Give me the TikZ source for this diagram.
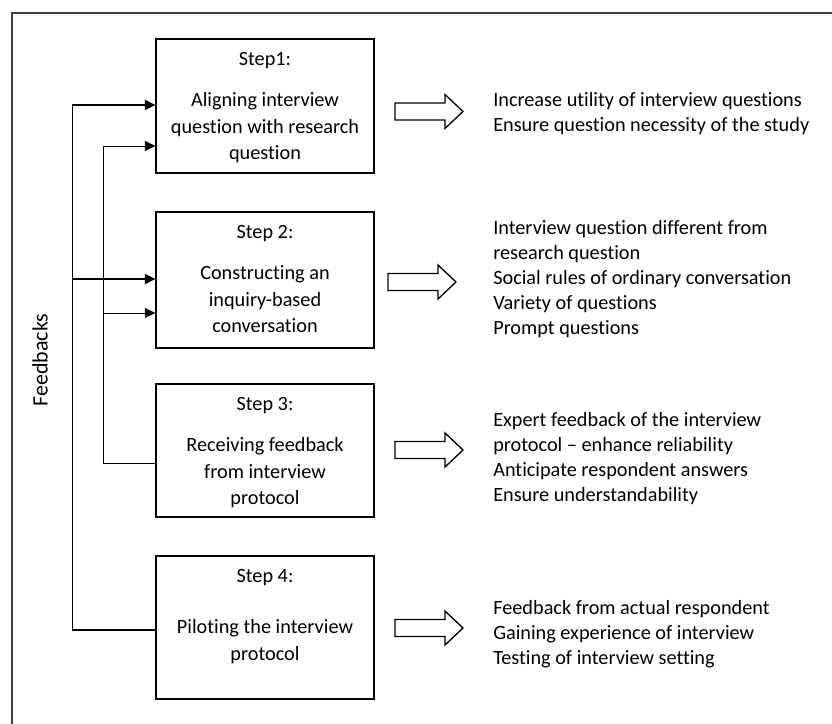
\documentclass[tikz,border=0pt]{standalone}
\usepackage{fontspec}
\setmainfont{Carlito}[RawFeature={-liga;-clig;-calt;-dlig}]
\usetikzlibrary{arrows.meta}
\usetikzlibrary{positioning}
\usetikzlibrary{calc}

\begin{document}
\begin{tikzpicture}[x=0.75pt,y=-0.75pt,
  stepbox/.style={draw, line width=0.8pt, minimum width=163.5pt, inner sep=0pt},
  steptext/.style={align=center, inner sep=0pt, font=\fontsize{15.2}{20}\selectfont},
  outtext/.style={anchor=west, align=left, inner sep=0pt, font=\fontsize{15.2}{18.75}\selectfont},
  thickfb/.style={line width=1.3pt, -{Triangle[length=8pt,width=7.5pt]}},
  thinfb/.style={line width=0.7pt, -{Triangle[length=8pt,width=7.5pt]}},
  bigarrow/.pic={\draw[line width=1pt, fill=white] (-34,-8.5) -- (16,-8.5) -- (16,-17) -- (34,0) -- (16,17) -- (16,8.5) -- (-34,8.5) -- cycle;}]
\useasboundingbox (0,0) rectangle (832,724);
\draw[line width=1.5pt, black!75] (12,740) -- (12,13) -- (850,13);

\node[stepbox, minimum height=100.5pt] (s1) at (265,106) {};
\node[stepbox, minimum height=102pt] (s2) at (265,280) {};
\node[stepbox, minimum height=99.75pt] (s3) at (265,450.5) {};
\node[stepbox, minimum height=107.25pt] (s4) at (265,627.5) {};

\node[steptext, below=10pt of s1.north] (t1) {Step1:\\[11pt]Aligning interview\\question with research\\question};
\node[steptext, below=10pt of s2.north] (t2) {Step 2:\\[11pt]Constructing an\\inquiry-based\\conversation};
\node[steptext, below=10pt of s3.north] (t3) {Step 3:\\[11pt]Receiving feedback\\from interview\\protocol};
\node[steptext, below=10pt of s4.north] (t4) {Step 4:\\[18.5pt]Piloting the interview\\protocol};

\pic at (429,111.5) {bigarrow};
\pic at (422,282) {bigarrow};
\pic at (429,450) {bigarrow};
\pic at (429,628) {bigarrow};

\node[outtext] (o1) at (493,114) {Increase utility of interview questions\\Ensure question necessity of the study};
\node[outtext] (o2) at (493,279) {Interview question different from\\research question\\Social rules of ordinary conversation\\Variety of questions\\Prompt questions};
\node[outtext] (o3) at (493,459) {Expert feedback of the interview\\protocol – enhance reliability\\Anticipate respondent answers\\Ensure understandability};
\node[outtext] (o4) at (493,634) {Feedback from actual respondent\\Gaining experience of interview\\Testing of interview setting};

\node[rotate=90, inner sep=0pt, font=\fontsize{16.5}{18}\selectfont] (fb) at (40,360) {Feedbacks};

% feedback loops
\draw[thickfb] ($(s4.west)+(0,2.5)$) -| ($(s1.west)+(-83,-1)$) -- ($(s1.west)+(0,-1)$);
\draw[thickfb] ($(s2.west)+(-83,-1)$) -- ($(s2.west)+(0,-1)$);
\draw[thinfb] ($(s3.west)+(0,12.5)$) -| ($(s1.west)+(-52,40)$) -- ($(s1.west)+(0,40)$);
\draw[thinfb] ($(s2.west)+(-52,33)$) -- ($(s2.west)+(0,33)$);
\end{tikzpicture}
\end{document}
